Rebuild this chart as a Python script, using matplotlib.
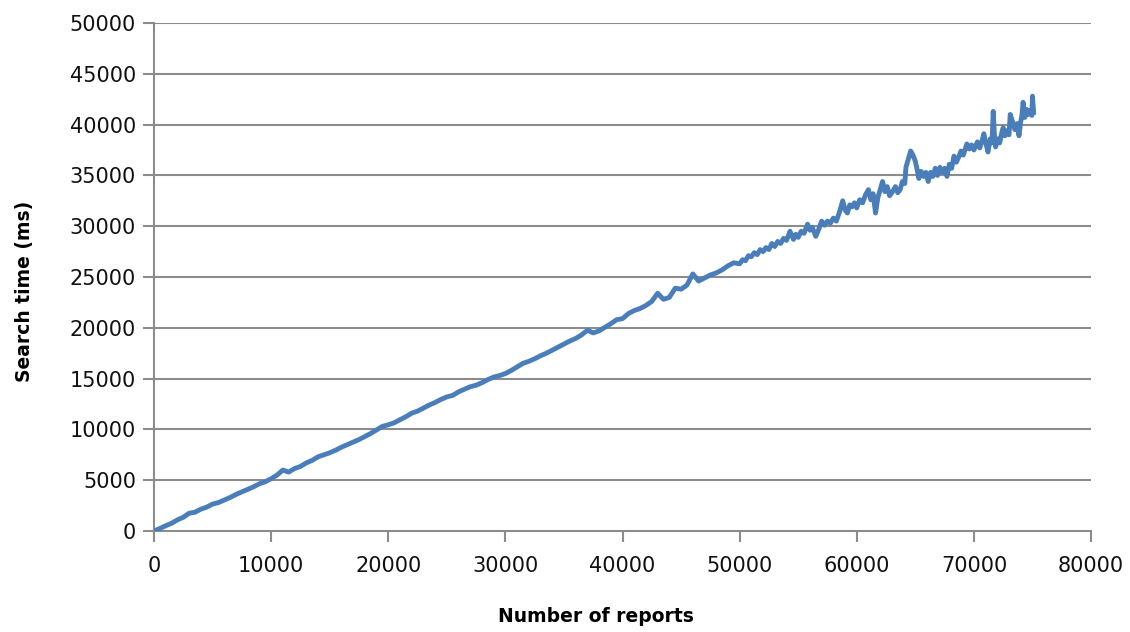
import matplotlib
matplotlib.use("Agg")
import matplotlib.pyplot as plt

# Lower part of the series (0 .. 49500 reports)
reports_lo = [0, 500, 1000, 1500, 2000, 2500, 3000, 3500, 4000, 4500, 5000, 5500, 6000, 6500, 7000, 7500,
              8000, 8500, 9000, 9500, 10000, 10500, 11000, 11500, 12000, 12500, 13000, 13500, 14000, 14500,
              15000, 15500, 16000, 16500, 17000, 17500, 18000, 18500, 19000, 19500, 20000, 20500, 21000,
              21500, 22000, 22500, 23000, 23500, 24000, 24500, 25000, 25500, 26000, 26500, 27000, 27500,
              28000, 28500, 29000, 29500, 30000, 30500, 31000, 31500, 32000, 32500, 33000, 33500, 34000,
              34500, 35000, 35500, 36000, 36500, 37000, 37500, 38000, 38500, 39000, 39500, 40000, 40500,
              41000, 41500, 42000, 42500, 43000, 43500, 44000, 44500, 45000, 45500, 46000, 46500, 47000,
              47500, 48000, 48500, 49000, 49500]
ms_lo = [0, 250, 520, 760, 1100, 1350, 1750, 1850, 2150, 2350, 2650, 2800, 3050, 3300, 3600, 3850,
         4100, 4350, 4650, 4850, 5150, 5500, 6000, 5800, 6150, 6350, 6700, 6950, 7300, 7500,
         7700, 7950, 8250, 8500, 8750, 9000, 9300, 9600, 9950, 10300, 10450, 10650, 10950,
         11250, 11600, 11800, 12100, 12400, 12650, 12950, 13200, 13350, 13700, 13950, 14200, 14350,
         14600, 14900, 15150, 15300, 15500, 15800, 16150, 16500, 16700, 16950, 17250, 17500, 17800,
         18100, 18400, 18700, 18950, 19300, 19750, 19500, 19700, 20050, 20400, 20800, 20900, 21400,
         21700, 21900, 22200, 22600, 23400, 22800, 23000, 23900, 23800, 24200, 25300, 24600, 24900,
         25200, 25400, 25700, 26100, 26400]

# Upper, noisier part of the series (50000 .. 75100 reports)
reports_hi = [50000, 50250, 50500, 50750, 51000, 51250, 51500, 51750, 52000, 52250,
              52500, 52750, 53000, 53250, 53500, 53750, 54000, 54300, 54600, 54800,
              55000, 55250, 55500, 55800, 56000, 56200, 56500, 56750, 57000, 57250,
              57500, 57750, 58000, 58250, 58500, 58800, 59000, 59200, 59400, 59600,
              59800, 60000, 60250, 60500, 60750, 61000, 61200, 61400, 61600, 61800,
              62000, 62200, 62400, 62600, 62800, 63000, 63300, 63500, 63700, 63900,
              64100, 64200, 64400, 64600, 64800, 65000, 65150, 65300, 65500, 65700,
              65900, 66100, 66300, 66500, 66700, 66900, 67100, 67300, 67500, 67700,
              67900, 68100, 68300, 68500, 68700, 68900, 69100, 69400, 69600, 69800,
              70000, 70300, 70500, 70700, 70850, 71000, 71200, 71400, 71550, 71650,
              71750, 71850, 72050, 72200, 72400, 72500, 72650, 72800, 73000, 73100,
              73300, 73500, 73700, 73850, 74000, 74100, 74200, 74350, 74500, 74650,
              74800, 74950, 75000, 75100]
ms_hi = [26300, 26700, 26600, 27100, 27000, 27400, 27200, 27700, 27500, 27900,
         27700, 28300, 28000, 28500, 28300, 28800, 28600, 29500, 28700, 29200,
         28900, 29500, 29300, 30200, 29600, 29900, 29000, 29700, 30500, 30100,
         30500, 30300, 30800, 30500, 31300, 32500, 31600, 31300, 32100, 31900,
         32300, 31800, 32600, 32300, 33100, 33600, 32600, 33200, 31300, 32800,
         33600, 34400, 33400, 33900, 33000, 33300, 33900, 33300, 33600, 34400,
         34200, 35800, 36600, 37400, 37000, 36400, 35600, 34700, 35400, 34900,
         35300, 34400, 35300, 34900, 35700, 35000, 35800, 35300, 35700, 34900,
         36100, 35700, 36900, 36300, 36800, 37400, 37000, 38100, 37600, 38000,
         37500, 38300, 37700, 38400, 39100, 38300, 37300, 38600, 38200, 41300,
         39000, 37800, 38600, 38200, 39300, 39700, 38900, 39400, 39000, 41000,
         40300, 39500, 40100, 38900, 40300, 40900, 42200, 40700, 41500, 41000,
         41400, 40900, 42800, 41200]

y_ticks = [0, 5000, 10000, 15000, 20000, 25000, 30000, 35000, 40000, 45000, 50000]
x_ticks = [0, 10000, 20000, 30000, 40000, 50000, 60000, 70000, 80000]

reports = reports_lo + reports_hi
search_ms = ms_lo + ms_hi

fig = plt.figure(figsize=(11.3, 6.32), dpi=100)
ax = fig.add_axes([0.1363, 0.1598, 0.9655 - 0.1363, 0.9636 - 0.1598])

grid_c = "#8c8c8c"
for t in y_ticks[1:]:
    ax.axhline(t, color=grid_c, lw=1.5, zorder=1)

ax.plot(reports, search_ms, color="#4A7EBB", lw=3.5, solid_joinstyle="round", zorder=3)

ax.set_xlim(0, 80000)
ax.set_ylim(0, 50000)
ax.set_xticks(x_ticks)
ax.set_yticks(y_ticks)
ax.set_xticklabels([str(v) for v in x_ticks])
ax.set_yticklabels([str(v) for v in y_ticks])

for s in ["top", "right"]:
    ax.spines[s].set_visible(False)
for s in ["left", "bottom"]:
    ax.spines[s].set_color(grid_c)
    ax.spines[s].set_linewidth(1.5)
ax.tick_params(axis="both", direction="out", length=8, width=1.5, color=grid_c,
               labelsize=15, labelcolor="#111111")
ax.tick_params(axis="x", pad=10)
ax.tick_params(axis="y", pad=5)

fig.text(596 / 1130, 1 - 617 / 632, "Number of reports", fontsize=13.5, fontweight="bold",
         ha="center", va="center")
fig.text(25 / 1130, 1 - 291 / 632, "Search time (ms)", fontsize=13.5, fontweight="bold",
         ha="center", va="center", rotation=90)

fig.savefig("out.png", dpi=100)
